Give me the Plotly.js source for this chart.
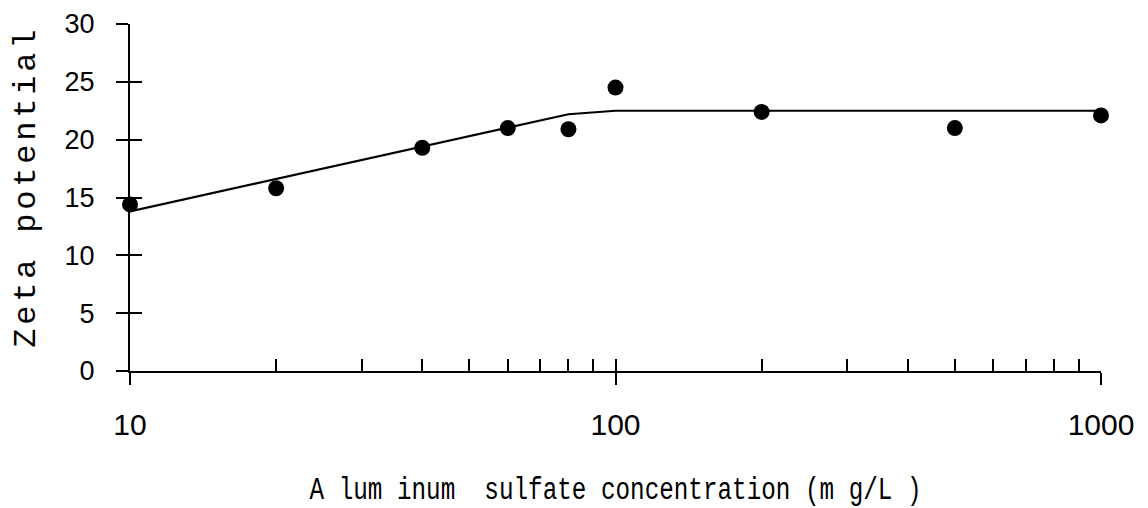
<!DOCTYPE html>
<html>
<head>
<meta charset="utf-8">
<script src="https://cdn.plot.ly/plotly-3.0.1.min.js"></script>
<style>
  html, body { margin: 0; padding: 0; background: #fff; }
  #chart { width: 1148px; height: 508px; }
</style>
</head>
<body>
<div id="chart"></div>
<script>
// Measured points
const concentration = [10, 20, 40, 60, 80, 100, 200, 500, 1000];
const zetaMeasured = [14.4, 15.8, 19.3, 21.0, 20.9, 24.5, 22.4, 21.0, 22.1];
// Fitted line
const fitX = [10, 20, 40, 60, 80, 100, 200, 500, 1000];
const fitY = [13.8, 16.6, 19.4, 21.0, 22.2, 22.5, 22.5, 22.5, 22.5];
// Axis ticks
const xMajorTicks = [10, 100, 1000];
const xMajorLabels = ['10', '100', '1000'];
const xMinorTicks = [20, 30, 40, 50, 60, 70, 80, 90, 200, 300, 400, 500, 600, 700, 800, 900];
const yTicks = [0, 5, 10, 15, 20, 25, 30];

const xTitle = 'A lum inum  sulfate concentration (m g/L )';
const yTitle = 'Zeta potential';

const traces = [
  {
    x: fitX, y: fitY, type: 'scatter', mode: 'lines',
    line: { color: '#000', width: 2.2 }, cliponaxis: false, hoverinfo: 'skip'
  },
  {
    x: concentration, y: zetaMeasured, type: 'scatter', mode: 'markers',
    marker: { color: '#000', size: 16 }, cliponaxis: false
  },
  {
    x: concentration, y: zetaMeasured, type: 'scatter', mode: 'markers',
    xaxis: 'x2', yaxis: 'y2', marker: { size: 0, opacity: 0 }, hoverinfo: 'skip', showlegend: false
  }
];

const tickFontX = { family: 'Liberation Sans', size: 30, color: '#000' };
const tickFontY = { family: 'Liberation Sans', size: 27, color: '#000' };

const layout = {
  width: 1148, height: 508,
  margin: { l: 130, r: 47, t: 24, b: 137 },
  paper_bgcolor: '#fff', plot_bgcolor: '#fff',
  showlegend: false,
  xaxis: {
    type: 'log', range: [1, 3],
    tickmode: 'array', tickvals: xMajorTicks, ticktext: xMajorLabels,
    ticks: 'outside', ticklen: 12, tickwidth: 2, tickcolor: '#000',
    showline: true, linecolor: '#000', linewidth: 2,
    showgrid: false, zeroline: false,
    tickfont: tickFontX, ticklabelstandoff: 14,
    title: { text: xTitle, font: { family: 'Liberation Mono', size: 31, color: '#000' }, standoff: 38 }
  },
  xaxis2: {
    type: 'log', range: [1, 3], overlaying: 'x', anchor: 'y2', side: 'bottom',
    tickmode: 'array', tickvals: xMajorTicks.concat(xMinorTicks),
    ticks: 'inside', ticklen: 12, tickwidth: 2, tickcolor: '#000',
    showticklabels: false, showline: false, showgrid: false, zeroline: false
  },
  yaxis: {
    range: [0, 30], tickmode: 'array', tickvals: yTicks,
    ticks: 'outside', ticklen: 12, tickwidth: 2, tickcolor: '#000',
    showline: true, linecolor: '#000', linewidth: 2,
    showgrid: false, zeroline: false,
    tickfont: tickFontY, ticklabelstandoff: 16
  },
  yaxis2: {
    range: [0, 30], overlaying: 'y', anchor: 'x2', side: 'left',
    tickmode: 'array', tickvals: yTicks,
    ticks: 'inside', ticklen: 12, tickwidth: 2, tickcolor: '#000',
    showticklabels: false, showline: false, showgrid: false, zeroline: false
  },
  annotations: [{
    text: yTitle, textangle: -90, showarrow: false,
    xref: 'paper', yref: 'paper', x: -0.106, y: 0.5245,
    xanchor: 'center', yanchor: 'middle',
    font: { family: 'Liberation Mono', size: 32, color: '#000' }
  }]
};

Plotly.newPlot('chart', traces, layout, { staticPlot: true }).then(function () {
  const xt = document.querySelector('.g-xtitle text');
  if (xt) { xt.setAttribute('textLength', '612'); xt.setAttribute('lengthAdjust', 'spacingAndGlyphs'); }
  const yt = document.querySelector('.annotation-text');
  if (yt) { yt.setAttribute('textLength', '318'); yt.setAttribute('lengthAdjust', 'spacing'); }
});
</script>
</body>
</html>
